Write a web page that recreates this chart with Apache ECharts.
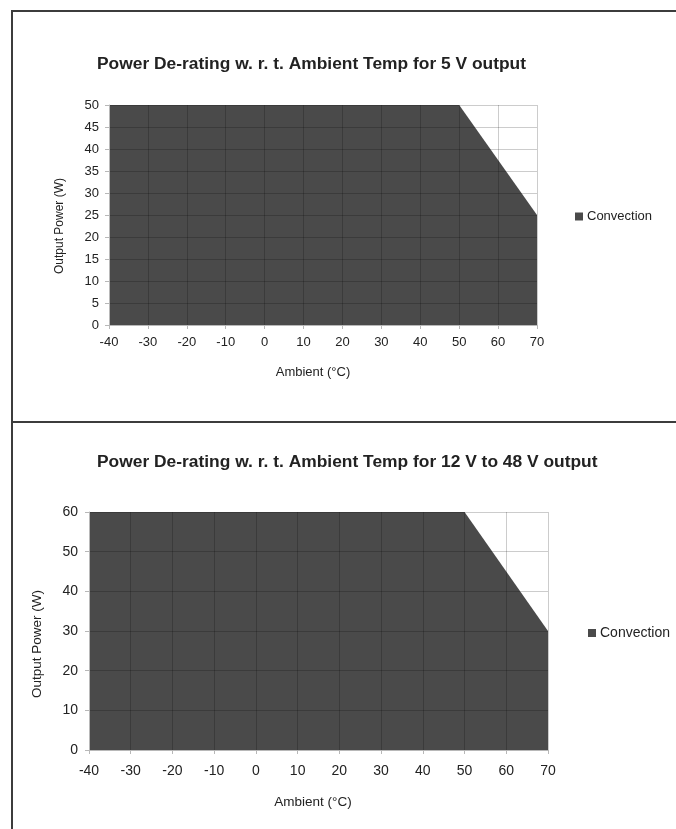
<!DOCTYPE html>
<html>
<head>
<meta charset="utf-8">
<script src="https://cdn.jsdelivr.net/npm/echarts@6/dist/echarts.min.js"></script>
<style>
html,body{margin:0;padding:0;background:#fff;}
#chart{width:676px;height:829px;}
</style>
</head>
<body>
<div id="chart"></div>
<script>
// Data
const temps = [-40, -30, -20, -10, 0, 10, 20, 30, 40, 50, 60, 70];
const power5V = [50, 50, 50, 50, 50, 50, 50, 50, 50, 50, 37.5, 25];
const power12to48V = [60, 60, 60, 60, 60, 60, 60, 60, 60, 60, 45, 30];
const seriesName = 'Convection';
const title1 = 'Power De-rating w. r. t. Ambient Temp for 5 V output';
const title2 = 'Power De-rating w. r. t. Ambient Temp for 12 V to 48 V output';
const xTitle = 'Ambient (°C)';
const yTitle = 'Output Power (W)';

const FONT = '"Liberation Sans", Arial, sans-serif';
const fillColor = '#4a4a4a';
const gridLine = 'rgba(0,0,0,0.2)';
const axisGray = '#b8b8b8';

function xAxisCfg(gridIndex, fs, margin) {
  return {
    type: 'value', gridIndex, min: -40, max: 70, interval: 10, zlevel: 1, z: 5,
    axisLine: {show: true, onZero: false, lineStyle: {color: axisGray, width: 1}},
    axisTick: {show: true, length: 4, lineStyle: {color: axisGray}},
    axisLabel: {color: '#222', fontFamily: FONT, fontSize: fs, margin},
    splitLine: {show: true, lineStyle: {color: gridLine, width: 1}}
  };
}
function yAxisCfg(gridIndex, max, interval, fs, margin) {
  return {
    type: 'value', gridIndex, min: 0, max, interval, zlevel: 1, z: 5,
    axisLine: {show: true, onZero: false, lineStyle: {color: axisGray, width: 1}},
    axisTick: {show: true, length: 4, lineStyle: {color: axisGray}},
    axisLabel: {color: '#222', fontFamily: FONT, fontSize: fs, margin},
    splitLine: {show: true, lineStyle: {color: gridLine, width: 1}}
  };
}

const chart = echarts.init(document.getElementById('chart'), null, {renderer: 'canvas'});
chart.setOption({
  animation: false,
  backgroundColor: '#fff',
  title: [
    {text: title1, left: 97, top: 56, padding: 0,
     textStyle: {fontFamily: FONT, fontSize: 17.4, fontWeight: 'bold', color: '#222'}},
    {text: title2, left: 97, top: 454, padding: 0,
     textStyle: {fontFamily: FONT, fontSize: 17.4, fontWeight: 'bold', color: '#222'}}
  ],
  legend: [
    {data: [seriesName], left: 575, top: 210, icon: 'rect', itemWidth: 8, itemHeight: 8, itemGap: 4,
     padding: 0, textStyle: {fontFamily: FONT, fontSize: 13, color: '#222', padding: [0,0,0,-1]}, selectedMode: false},
    {data: [seriesName], left: 588, top: 626, icon: 'rect', itemWidth: 8, itemHeight: 8, itemGap: 4,
     padding: 0, textStyle: {fontFamily: FONT, fontSize: 14, color: '#222', padding: [0,0,0,-1]}, selectedMode: false}
  ],
  grid: [
    {left: 109, top: 105, width: 428, height: 220},
    {left: 89, top: 512, width: 459, height: 238}
  ],
  xAxis: [xAxisCfg(0, 13, 11), xAxisCfg(1, 14, 14)],
  yAxis: [yAxisCfg(0, 50, 5, 13, 10), yAxisCfg(1, 60, 10, 14, 11)],
  series: [
    {name: seriesName, type: 'line', xAxisIndex: 0, yAxisIndex: 0, zlevel: 0, z: 1,
     data: temps.map((t, i) => [t, power5V[i]]),
     showSymbol: false, symbol: 'none', color: fillColor,
     lineStyle: {width: 0, color: fillColor},
     itemStyle: {color: fillColor},
     areaStyle: {color: fillColor, opacity: 1}},
    {name: seriesName, type: 'line', xAxisIndex: 1, yAxisIndex: 1, zlevel: 0, z: 1,
     data: temps.map((t, i) => [t, power12to48V[i]]),
     showSymbol: false, symbol: 'none', color: fillColor,
     lineStyle: {width: 0, color: fillColor},
     itemStyle: {color: fillColor},
     areaStyle: {color: fillColor, opacity: 1}}
  ],
  graphic: [
    {type: 'line', shape: {x1: 11, y1: 11, x2: 676, y2: 11}, style: {stroke: '#3c3c3c', lineWidth: 2}},
    {type: 'line', shape: {x1: 12, y1: 10, x2: 12, y2: 829}, style: {stroke: '#3c3c3c', lineWidth: 2}},
    {type: 'line', shape: {x1: 12, y1: 422, x2: 676, y2: 422}, style: {stroke: '#3c3c3c', lineWidth: 2}},
    {type: 'text', x: 60, y: 226, rotation: Math.PI / 2,
     style: {text: yTitle, textAlign: 'center', textVerticalAlign: 'middle', font: '12px ' + FONT, fill: '#222'}},
    {type: 'text', x: 313, y: 372,
     style: {text: xTitle, textAlign: 'center', textVerticalAlign: 'middle', font: '13px ' + FONT, fill: '#222'}},
    {type: 'text', x: 37, y: 644, rotation: Math.PI / 2,
     style: {text: yTitle, textAlign: 'center', textVerticalAlign: 'middle', font: '13.5px ' + FONT, fill: '#222'}},
    {type: 'text', x: 313, y: 802,
     style: {text: xTitle, textAlign: 'center', textVerticalAlign: 'middle', font: '13.5px ' + FONT, fill: '#222'}}
  ]
});
</script>
</body>
</html>
